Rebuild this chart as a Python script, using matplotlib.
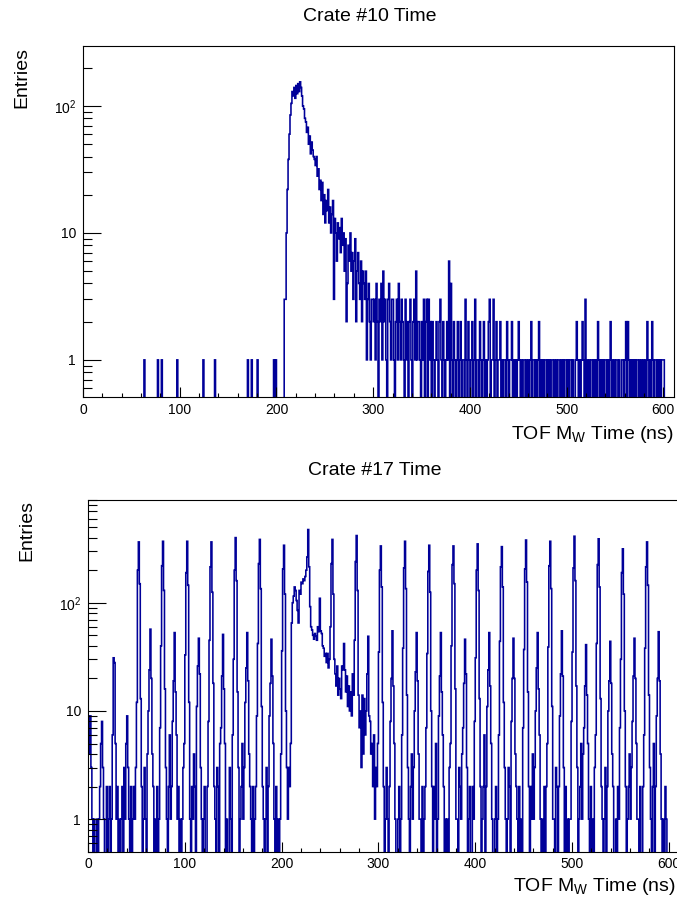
import numpy as np
import matplotlib
matplotlib.use("Agg")
import matplotlib.pyplot as plt
from matplotlib.ticker import FixedLocator, FixedFormatter, MultipleLocator, NullFormatter

plt.rcParams['font.family'] = ['Liberation Sans', 'DejaVu Sans']
plt.rcParams['mathtext.fontset'] = 'custom'
plt.rcParams['mathtext.rm'] = 'Liberation Sans'
plt.rcParams['mathtext.it'] = 'Liberation Sans:italic'

# ---------------------------------------------------------------- data
BIN_WIDTH = 1.0          # ns per bin, histograms start at 0 ns
X_MAX = 611.0

# Crate #10: counts per 1 ns bin
crate10_counts = (
    [0] * 63 + [1] + [0] * 13 + [1] + [0] * 3 + [1] + [0] * 15 + [1]
    + [0] * 26 + [1] + [0] * 11 + [1] + [0] * 33 + [1] + [0] * 3 + [1]
    + [0] * 5 + [1] + [0] * 16 + [1] + [0] + [1] + [0] * 8
    # 208 - 298: main peak and decay
    + [3, 3, 10, 22, 38, 60, 85, 105, 130, 120, 140, 115, 145, 125, 150, 130,
       155, 140, 120, 100, 95, 80, 75, 62, 68, 50, 58, 42, 52, 45, 40, 38,
       34, 40, 28, 32, 22, 26, 18, 25, 14, 20, 12, 18, 15, 22, 12, 16, 10, 14,
       18, 3, 13, 10, 6, 12, 9, 11, 7, 13, 8, 10, 5, 9, 2, 4, 8, 6, 10, 5,
       7, 3, 6, 9, 2, 5, 7, 4, 3, 6, 2, 5, 4, 3, 5, 1, 3, 4, 2, 1, 3]
    # 299 - 610: tail
    + [3,
       2, 3, 1, 4, 2, 0, 3, 2, 4, 1,
       5, 2, 3, 1, 0, 3, 4, 2, 1, 3,
       3, 1, 0, 2, 3, 1, 4, 2, 1, 3,
       2, 1, 0, 3, 1, 2, 0, 2, 3, 1,
       0, 2, 3, 1, 5, 1, 2, 2, 1, 0,
       2, 1, 3, 0, 2, 3, 0, 3, 1, 2,
       0, 2, 1, 0, 1, 2, 1, 0, 2, 3,
       1, 0, 2, 1, 0, 1, 2, 1, 6, 0,
       4, 1, 0, 2, 1, 0, 1, 2, 0, 1,
       2, 0, 1, 1, 0, 3, 1, 0, 2, 1,
       0, 1, 2, 0, 1, 3, 0, 1, 1, 0,
       2, 1, 0, 1, 2, 0, 1, 0, 1, 2,
       3, 0, 1, 1, 3, 0, 1, 2, 0, 1,
       1, 2, 0, 1, 0, 1, 1, 0, 2, 1,
       0, 1, 1, 2, 0, 1, 0, 1, 0, 1,
       2, 1, 0, 1, 0, 1, 1, 0, 1, 0,
       1, 0, 1, 2, 0, 1, 1, 0, 1, 0,
       1, 2, 0, 1, 0, 1, 0, 1, 1, 0,
       1, 0, 1, 0, 1, 1, 0, 1, 0, 1,
       0, 1, 1, 0, 1, 0, 1, 0, 1, 1,
       0, 1, 0, 1, 1, 0, 1, 0, 0, 1,
       2, 1, 0, 1, 0, 1, 2, 1, 0, 3,
       0, 1, 0, 1, 0, 1, 1, 0, 1, 0,
       1, 0, 2, 1, 0, 1, 0, 1, 0, 1,
       1, 0, 1, 0, 1, 2, 0, 1, 0, 1,
       0, 1, 1, 0, 1, 0, 0, 1, 1, 0,
       1, 2, 0, 2, 1, 0, 1, 0, 1, 0,
       1, 0, 1, 1, 0, 1, 0, 1, 0, 1,
       0, 1, 0, 2, 1, 0, 1, 0, 2, 1,
       0, 1, 1, 0, 1, 0, 1, 0, 1, 1,
       1, 0, 0, 0, 0, 0, 0, 0, 0, 0, 0]
)

# Crate #17: counts per 1 ns bin (25 ns beam structure)
crate17_counts = (
    # 0 - 51
    [9, 4, 9, 3, 1, 0, 1, 0, 0, 1, 0, 1, 2, 5, 8, 3, 1, 0, 0, 2,
     0, 1, 2, 0, 1, 6, 31, 28, 5, 1, 2, 0, 1, 0, 1, 2, 0, 3, 1, 5,
     9, 3, 1, 0, 2, 0, 1, 2, 1, 3, 12, 200]
    + [365, 150, 13, 2, 0, 1, 3, 1, 0, 4, 10, 24, 57, 20, 4, 2, 0, 1, 0, 2, 0, 1, 7, 40, 220]
    + [370, 130, 16, 3, 1, 0, 2, 6, 1, 2, 8, 19, 53, 15, 6, 1, 2, 0, 1, 0, 1, 3, 5, 33, 190]
    + [370, 145, 12, 1, 0, 2, 1, 4, 2, 0, 11, 26, 47, 22, 3, 1, 0, 1, 2, 0, 0, 2, 8, 45, 215]
    + [365, 125, 18, 2, 1, 0, 3, 2, 0, 5, 7, 21, 51, 16, 5, 0, 1, 0, 0, 3, 1, 0, 6, 30, 200]
    + [400, 160, 15, 3, 0, 1, 2, 5, 1, 3, 12, 25, 53, 19, 4, 2, 1, 0, 2, 0, 1, 2, 9, 42, 230]
    + [385, 135, 11, 2, 1, 0, 1, 3, 0, 2, 9, 18, 46, 21, 5, 1, 0, 2, 0, 1, 0, 1, 4, 36, 205]
    # 202 - 301: beam-correlated bump on top of the bunch structure
    + [340, 120, 10, 3, 1, 3, 2, 5, 65, 100, 115, 140, 130, 105, 85, 65, 130, 120, 155, 150,
       166, 160, 175, 200, 265]
    + [475, 215, 92, 60, 56, 50, 46, 52, 49, 45, 60, 54, 110, 55, 52, 40, 38, 32, 34, 28,
       34, 25, 30, 60, 230]
    + [385, 120, 30, 22, 17, 26, 14, 20, 16, 13, 26, 24, 42, 24, 15, 21, 11, 17, 10, 15,
       9, 22, 14, 45, 240]
    + [418, 130, 14, 7, 10, 3, 14, 4, 13, 6, 10, 22, 49, 9, 8, 4, 5, 2, 6, 1,
       3, 2, 5, 35, 200]
    + [335, 140, 12, 2, 0, 1, 3, 1, 0, 2, 8, 20, 55, 17, 5, 1, 0, 0, 1, 2, 0, 1, 6, 38, 210]
    + [370, 135, 14, 3, 1, 0, 2, 4, 1, 3, 10, 23, 53, 19, 4, 1, 1, 0, 2, 0, 1, 2, 7, 34, 195]
    + [340, 125, 10, 2, 0, 2, 1, 5, 0, 1, 9, 21, 53, 15, 6, 2, 0, 1, 0, 1, 0, 3, 5, 40, 225]
    + [335, 150, 16, 1, 1, 0, 3, 2, 1, 4, 7, 18, 46, 22, 3, 0, 1, 2, 0, 0, 2, 1, 8, 31, 200]
    + [350, 130, 13, 2, 0, 1, 2, 6, 0, 2, 11, 24, 53, 17, 5, 1, 0, 0, 1, 2, 0, 1, 6, 44, 215]
    + [330, 140, 12, 3, 1, 0, 1, 3, 2, 0, 8, 20, 47, 20, 4, 2, 1, 0, 2, 0, 1, 0, 7, 37, 205]
    + [380, 155, 15, 2, 0, 2, 1, 4, 1, 3, 10, 25, 53, 16, 6, 1, 0, 1, 0, 2, 0, 2, 5, 39, 220]
    + [370, 135, 11, 1, 1, 0, 3, 2, 0, 2, 9, 22, 55, 21, 3, 0, 2, 0, 1, 0, 1, 1, 8, 35, 210]
    + [412, 160, 17, 3, 0, 1, 2, 5, 1, 4, 7, 17, 41, 14, 5, 1, 0, 2, 0, 1, 0, 3, 6, 42, 225]
    + [390, 140, 13, 2, 1, 0, 1, 3, 0, 2, 10, 19, 44, 18, 4, 2, 0, 0, 1, 0, 2, 1, 7, 30, 190]
    + [315, 120, 10, 2, 0, 1, 2, 4, 1, 3, 8, 21, 47, 20, 5, 1, 1, 0, 2, 0, 0, 2, 6, 38, 215]
    + [365, 145, 14, 3, 1, 0, 2, 5, 0, 2, 9, 20, 54, 19, 4, 1, 0, 1, 0, 2, 1, 0, 0, 0, 0]
    + [0] * 9
)

x_ticks = [0, 100, 200, 300, 400, 500, 600]
x_tick_labels = ["0", "100", "200", "300", "400", "500", "600"]
y_ticks = [1, 10, 100]
y_tick_labels = ["1", "10", r"$10^{2}$"]

panels = [
    dict(title="Crate #10 Time", counts=crate10_counts, ylim=(0.51, 297.0),
         rect=(83, 46, 674, 397), title_xy=(370, 16.5), ylab_xy=(21.7, 47),
         xlab_xy=(674, 439)),
    dict(title="Crate #17 Time", counts=crate17_counts, ylim=(0.50, 900.0),
         rect=(88, 499.5, 679.5, 851.7), title_xy=(375, 470.5), ylab_xy=(27, 500),
         xlab_xy=(676, 891)),
]

# ---------------------------------------------------------------- figure
W, H = 677, 902
fig = plt.figure(figsize=(W / 100, H / 100), dpi=100)
line_color = "#000099"


def fx(px):
    return px / W


def fy(py):
    return 1 - py / H


for p in panels:
    x0, y0, x1, y1 = p["rect"]
    ax = fig.add_axes([fx(x0), fy(y1), (x1 - x0) / W, (y1 - y0) / H])
    counts = np.asarray(p["counts"], dtype=float)
    edges = np.arange(len(counts) + 1) * BIN_WIDTH
    shown = np.where(counts > 0, counts, 1e-3)
    ax.stairs(shown, edges, baseline=None, color=line_color, lw=1.15)

    ax.set_yscale("log")
    ax.set_xlim(0, X_MAX)
    ax.set_ylim(*p["ylim"])

    ax.xaxis.set_major_locator(FixedLocator(x_ticks))
    ax.xaxis.set_major_formatter(FixedFormatter(x_tick_labels))
    ax.xaxis.set_minor_locator(MultipleLocator(20))
    ax.yaxis.set_major_locator(FixedLocator(y_ticks))
    ax.yaxis.set_major_formatter(FixedFormatter(y_tick_labels))
    minor = [m * d for d in (0.1, 1, 10, 100) for m in range(2, 10)]
    ax.yaxis.set_minor_locator(FixedLocator(minor))
    ax.yaxis.set_minor_formatter(NullFormatter())

    ax.tick_params(axis="both", which="both", direction="in", top=False,
                   right=False, colors="black", labelsize=10, width=0.8)
    ax.tick_params(axis="x", which="major", length=7.2, pad=4)
    ax.tick_params(axis="x", which="minor", length=3.2)
    ax.tick_params(axis="y", which="major", length=12.6, pad=5)
    ax.tick_params(axis="y", which="minor", length=6.5)
    for s in ax.spines.values():
        s.set_linewidth(0.8)
        s.set_color("black")

    tx, ty = p["title_xy"]
    fig.text(fx(tx), fy(ty), p["title"], ha="center", va="center", fontsize=14)
    lx, ly = p["ylab_xy"]
    fig.text(fx(lx), fy(ly), "Entries", rotation=90, ha="center", va="top",
             fontsize=14)
    bx, by = p["xlab_xy"]
    fig.text(fx(bx), fy(by), r"TOF M$_{\mathrm{W}}$ Time (ns)", ha="right",
             va="baseline", fontsize=14)

fig.savefig("out.png", dpi=100)
